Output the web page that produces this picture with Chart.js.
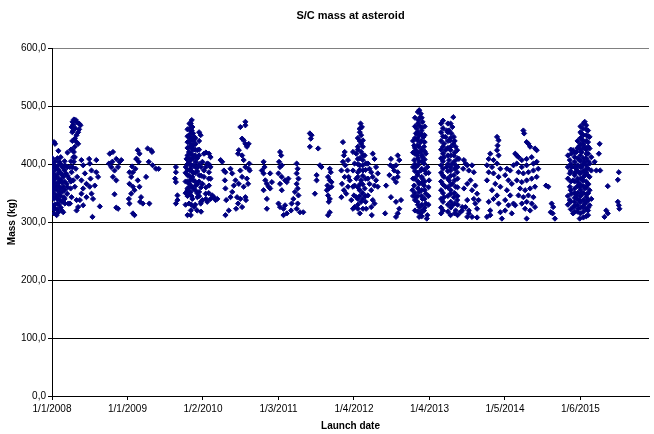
<!DOCTYPE html>
<html>
<head>
<meta charset="utf-8">
<script src="https://cdn.jsdelivr.net/npm/chart.js@4.4.0/dist/chart.umd.min.js"></script>
<style>
  html, body { margin: 0; padding: 0; background: #fff; }
  #wrap { width: 654px; height: 434px; }
</style>
</head>
<body>
<div id="wrap"><canvas id="massChart" width="654" height="434"></canvas></div>
<script>
// launch date = days after 1/1/2008, mass in kg
const tickDays = [0, 390, 780, 1170, 1560, 1950, 2340, 2730];
const tickLabels = ['1/1/2008', '1/1/2009', '1/2/2010', '1/3/2011', '1/4/2012', '1/4/2013', '1/5/2014', '1/6/2015'];
const massTicks = [0, 100, 200, 300, 400, 500, 600];

const launches2008 = [
    [11,438],[16,435],[33,423],[4,401],[4,386],[4,372],[4,358],[4,343],[7,326],[11,315],
    [21,395],[21,378],[21,361],[24,343],[28,332],[33,317],[38,404],[38,386],[38,369],[41,352],
    [41,338],[50,320],[55,395],[58,378],[58,361],[62,343],[67,398],[72,384],[76,366],[79,349],
    [84,332],[89,375],[93,395],[96,358],[101,386],[101,343],[110,372],[113,404],[118,412],[118,361],
    [123,392],[127,338],[130,378],[135,326],
    [106,473],[113,477],[123,476],[140,470],[147,467],[101,464],[110,458],[135,455],[127,450],[118,444],
    [127,438],[135,435],[118,430],[113,421],[110,412],
    [16,323],[24,312],[58,317],[67,332],[93,332],[127,320],[144,338],[152,349],[161,358],
    [152,407],[161,398],[170,384],[178,366],[192,409],[195,401],[204,389],[199,375],[195,361],[204,349],
    [212,340],[209,309],[221,363],[229,386],[229,407],[238,378],[247,327],[161,329],[178,343],[152,372],
    [298,418],[315,421],[332,409],[349,404],[358,407],[306,395],[323,389],[341,395],[315,378],[332,372],
    [323,348],[332,325],[341,323],[294,401],[311,404],
    [443,424],[452,418],[438,409],[448,404],[418,386],[409,378],[400,366],[418,361],[409,349],[397,340],
    [400,332],[426,355],[443,372],[452,361],[460,343],[455,335],[418,315],[426,312],[469,332],[435,409],
    [400,386],[414,396],[431,392],[494,427],[500,404],[486,378],[503,332],
    [2,330],[2,350],[2,365],[2,380],[2,395],[2,410],[10,322],[10,340],[10,355],[10,368],
    [10,382],[10,397],[16,330],[16,348],[16,362],[16,375],[16,390],[16,405],[28,322],[28,340],
    [28,355],[28,368],[28,382],[28,397],[28,410],[35,330],[35,348],[35,362],[35,375],[35,390],
    [45,325],[45,345],[45,358],[45,372],[45,385],[45,400],[45,412],[52,335],[52,352],[52,368],
    [52,382],[65,340],[65,355],[65,370],[65,390],[65,405],[80,360],[80,380],[80,395],[80,420],
    [98,370],[98,405],[98,425],[105,425],[105,440],[105,395],[110,468],[130,472],[120,462],[105,455],
    [140,460]
];

const launches2009 = [
    [512,424],[517,421],[520,398],[537,392],[551,392],
    [640,395],[640,386],[636,375],[640,369],[648,346],[648,338],[640,332],
    [722,476],[717,470],[725,464],[722,458],[729,453],[708,447],[734,447],[760,455],[768,450],[700,438],
    [717,435],[742,435],[751,424],[708,421],[725,415],[760,415],[785,418],[811,418],[819,412],[695,409],
    [708,404],[742,404],[777,404],[802,401],[819,395],[691,395],[717,392],[751,395],[785,389],[811,386],
    [700,381],[725,378],[760,381],[785,378],[819,375],[708,366],[742,363],[777,366],[811,363],[700,355],
    [717,352],[760,352],[794,349],[828,346],[725,340],[751,343],[777,338],[845,338],[708,332],[734,326],
    [768,332],[802,335],[717,320],[700,312],[717,312],[854,340],[836,343],[819,340],
    [871,407],[879,404],[888,389],[896,386],[922,392],[931,384],[893,372],[896,358],[900,338],[913,320],
    [896,312],[939,363],[922,343],[931,352],[948,372],[951,323],
    [961,418],[973,464],[999,473],[999,467],[982,444],[990,441],[999,435],[1007,430],[965,424],[982,415],
    [990,407],[999,395],[973,389],[982,378],[965,366],[990,361],[1007,375],[999,343],[973,340],[956,343],
    [961,332],[982,326],[1002,338],[1016,392],[1013,366],
    [710,470],[710,460],[710,450],[710,440],[710,430],[710,420],[710,410],[710,400],[710,390],[710,380],
    [710,370],[710,360],[710,350],[720,465],[720,455],[720,445],[720,428],[720,418],[720,408],[720,398],
    [720,388],[720,375],[720,362],[720,345],[720,330],[730,440],[730,432],[730,425],[730,410],[730,398],
    [730,385],[730,372],[730,358],[700,460],[700,448],[700,428],[700,415],[700,400],[700,390],[700,370],
    [700,358],[700,345],[740,445],[740,425],[740,415],[740,395],[740,385],[740,370],[740,355],[740,330],
    [750,410],[750,388],[750,365],[750,350],[750,320],[760,440],[760,425],[760,400],[760,370],[760,345],
    [770,395],[770,380],[770,360],[770,335],[770,318],[690,385],[690,370],[690,350],[690,330],
    [795,420],[795,395],[795,360],[795,340],[810,400],[810,375],[810,350]
];

const launches2011 = [
    [1016,435],[1019,401],[1021,389],
    [1093,404],[1098,395],[1084,389],[1093,384],[1102,372],[1110,366],[1119,361],[1127,358],[1093,355],
    [1110,340],[1110,323],[1127,384],[1136,369],
    [1178,421],[1184,415],[1173,404],[1178,395],[1187,398],[1170,384],[1187,378],[1204,372],[1213,369],
    [1221,375],[1178,366],[1187,355],[1170,332],[1178,326],[1196,323],[1204,329],[1213,315],[1196,312],
    [1264,401],[1269,392],[1264,384],[1273,375],[1264,366],[1269,358],[1255,352],[1273,346],[1247,340],
    [1238,332],[1235,320],[1269,332],[1281,317],[1298,317],[1264,323],
    [1332,453],[1341,450],[1337,444],[1332,430],[1375,427],[1384,398],[1392,395],[1367,381],[1367,372],
    [1358,349],
    [1435,392],[1440,386],[1426,378],[1435,372],[1423,363],[1430,358],[1420,355],[1426,346],[1435,340],
    [1430,335],[1444,369],[1444,361],[1435,317],[1426,312],
    [1503,438],[1512,421],[1508,415],[1503,404],[1515,398],[1495,389],[1512,378],[1498,366],[1508,355],
    [1495,343],[1520,349],[1529,361],[1526,389]
];

const launches2012 = [
    [1529,407],[1532,378],[1538,372],[1555,361],[1560,346],[1546,338],[1563,326],
    [1594,470],[1601,464],[1589,461],[1597,450],[1606,441],[1597,435],[1580,430],[1606,430],[1555,421],
    [1572,418],[1597,421],[1615,415],[1580,409],[1606,407],[1563,401],[1589,398],[1623,401],[1555,389],
    [1580,386],[1606,389],[1572,375],[1597,372],[1563,363],[1615,358],[1589,355],[1572,343],[1606,340],
    [1580,323],[1555,323],[1606,323],[1597,335],
    [1632,401],[1640,392],[1657,418],[1666,409],[1649,386],[1674,395],[1632,375],[1657,378],[1683,384],
    [1640,366],[1666,363],[1649,355],[1674,372],[1632,346],[1657,338],[1649,326],[1666,332],[1652,312],
    [1623,323],[1683,361],[1726,363],[1721,315],
    [1786,415],[1794,407],[1751,409],[1748,398],[1760,395],[1777,398],[1768,389],[1786,386],[1743,381],
    [1765,375],[1786,378],[1777,369],[1751,343],[1777,335],[1803,338],[1786,315],[1777,309],[1794,323],
    [1580,445],[1580,425],[1580,400],[1580,378],[1580,360],[1580,340],[1580,330],[1590,455],[1590,440],
    [1590,410],[1590,390],[1590,365],[1590,345],[1590,315],[1605,415],[1605,398],[1605,380],[1605,365],
    [1605,350],[1620,390],[1620,375],[1620,345],[1620,335]
];

const launches2013 = [
    [1897,493],[1905,487],[1902,481],[1892,476],[1914,473],[1897,467],[1885,461],[1909,458],[1880,453],
    [1897,450],[1919,447],[1888,441],[1905,438],[1871,432],[1897,430],[1922,430],[1880,424],[1905,421],
    [1931,418],[1888,415],[1914,412],[1871,407],[1897,404],[1922,401],[1939,395],[1880,395],[1905,389],
    [1931,384],[1888,381],[1914,375],[1948,372],[1897,366],[1871,363],[1922,363],[1862,355],[1897,352],
    [1931,349],[1880,343],[1914,340],[1888,335],[1931,332],[1897,326],[1922,320],[1905,315],[1939,312],
    [1897,309],[1936,306],
    [2039,458],[2033,447],[2025,435],[2033,424],[2025,412],[2039,395],[2025,378],[2033,361],[2025,343],
    [2073,481],[2059,470],[2068,464],[2051,458],[2063,453],[2076,447],[2056,441],[2073,435],[2085,430],
    [2059,424],[2093,424],[2076,415],[2051,407],[2068,401],[2085,398],[2102,409],[2059,389],[2076,381],
    [2093,386],[2051,372],[2068,366],[2085,361],[2059,349],[2076,343],[2093,338],[2068,329],[2085,320],
    [2059,312],[2110,317],[2119,320],
    [1890,490],[1890,470],[1890,455],[1890,445],[1890,433],[1890,420],[1890,410],[1890,398],[1890,385],
    [1890,370],[1890,358],[1890,345],[1890,330],[1890,318],[1875,480],[1875,465],[1875,445],[1875,428],
    [1875,418],[1875,400],[1875,388],[1875,375],[1875,350],[1875,338],[1875,320],[1910,480],[1910,463],
    [1910,452],[1910,440],[1910,425],[1910,415],[1910,405],[1910,392],[1910,378],[1910,368],[1910,355],
    [1910,345],[1910,330],[1910,320],[1910,310],[1925,465],[1925,450],[1925,438],[1925,422],[1925,408],
    [1925,390],[1925,370],[1925,355],[1925,340],[1925,325],[1865,440],[1865,420],[1865,395],[1865,375],
    [1865,345],[1945,385],[1945,360],[1945,345],[1945,330],
    [2010,470],[2010,455],[2010,440],[2010,425],[2010,410],[2010,398],[2010,385],[2010,370],[2010,355],
    [2010,340],[2010,325],[2010,315],[2020,475],[2020,462],[2020,448],[2020,430],[2020,418],[2020,405],
    [2020,392],[2020,380],[2020,365],[2020,350],[2020,335],[2020,320],[2045,470],[2045,455],[2045,440],
    [2045,428],[2045,415],[2045,400],[2045,388],[2045,375],[2045,360],[2045,345],[2045,330],[2045,318],
    [2060,445],[2060,430],[2060,415],[2060,395],[2060,380],[2060,365],[2060,355],[2060,335],[2060,325],
    [2080,440],[2080,420],[2080,405],[2080,392],[2080,372],[2080,350],[2080,332],[2080,315],
    [2095,410],[2095,395],[2095,375],[2095,360],[2095,345],[2095,330],[2095,312]
];

const launches2014 = [
    [2128,407],[2136,401],[2124,392],[2145,398],[2153,389],[2170,398],[2179,386],[2162,372],[2145,366],
    [2128,358],[2170,355],[2187,363],[2196,349],[2145,338],[2179,340],[2187,332],[2136,326],[2153,320],
    [2204,338],[2196,323],[2170,309],[2145,309],[2196,308],[2153,315],[2119,326],
    [2299,447],[2307,441],[2302,432],[2299,424],[2307,415],[2264,418],[2256,409],[2281,407],[2247,398],
    [2273,395],[2299,401],[2316,392],[2256,386],[2281,384],[2307,378],[2247,372],[2290,366],[2316,361],
    [2273,355],[2299,346],[2281,340],[2256,335],[2307,332],[2264,320],[2316,317],[2247,309],[2264,312],
    [2324,306],
    [2350,392],[2367,389],[2341,381],[2358,372],[2375,366],[2350,355],[2367,346],[2341,338],[2358,329],
    [2341,320],[2375,315],[2384,332],[2393,418],[2401,415],[2384,398],
    [2435,458],[2439,453],[2452,438],[2461,435],[2470,430],[2495,427],[2504,424],[2410,412],[2427,407],
    [2452,409],[2478,412],[2401,401],[2427,395],[2452,398],[2487,401],[2504,404],[2410,386],[2435,384],
    [2461,386],[2487,389],[2512,392],[2401,372],[2427,369],[2452,372],[2478,375],[2504,378],[2418,358],
    [2444,355],[2470,358],[2495,361],[2410,346],[2435,343],[2461,346],[2487,343],[2427,332],[2452,335],
    [2478,332],[2444,323],[2470,320],[2495,326],[2452,306],[2393,329],[2552,363]
];

const launches2015 = [
    [2564,361],[2581,332],[2589,326],[2576,317],[2586,315],[2598,306],
    [2752,473],[2760,467],[2743,461],[2769,458],[2735,453],[2760,450],[2777,447],[2743,441],[2769,438],
    [2726,432],[2752,430],[2777,427],[2692,424],[2683,418],[2709,421],[2735,421],[2760,418],[2786,412],
    [2675,407],[2700,404],[2726,407],[2752,404],[2777,401],[2803,404],[2683,395],[2709,392],[2735,395],
    [2760,392],[2786,389],[2675,384],[2700,381],[2726,384],[2752,381],[2777,378],[2692,372],[2717,369],
    [2743,372],[2769,366],[2675,361],[2700,358],[2726,361],[2752,358],[2777,355],[2683,349],[2709,346],
    [2735,349],[2760,343],[2786,340],[2675,338],[2700,335],[2726,338],[2752,332],[2777,329],[2692,326],
    [2717,323],[2743,326],[2769,320],[2692,315],[2726,306],[2769,312],
    [2829,435],[2825,418],[2812,389],[2832,389],[2871,362],[2863,320],[2871,315],[2854,309],
    [2928,386],[2923,373],[2923,335],[2928,329],[2931,323],
    [2730,465],[2730,455],[2730,445],[2730,435],[2730,425],[2730,415],[2730,405],[2730,395],[2730,385],
    [2730,375],[2730,365],[2730,355],[2730,345],[2730,335],[2730,325],[2730,315],[2745,470],[2745,450],
    [2745,435],[2745,428],[2745,410],[2745,400],[2745,388],[2745,378],[2745,362],[2745,350],[2745,338],
    [2745,328],[2745,318],[2745,308],[2760,460],[2760,440],[2760,425],[2760,410],[2760,398],[2760,385],
    [2760,370],[2760,360],[2760,348],[2760,335],[2760,322],[2760,310],[2770,448],[2770,430],[2770,418],
    [2770,405],[2770,392],[2770,380],[2770,365],[2770,350],[2770,338],[2770,325],[2715,440],[2715,428],
    [2715,410],[2715,398],[2715,388],[2715,375],[2715,362],[2715,350],[2715,340],[2715,330],[2715,318],
    [2700,420],[2700,412],[2700,395],[2700,385],[2700,370],[2700,350],[2700,342],[2700,328],[2700,318],
    [2680,425],[2680,400],[2680,388],[2680,370],[2680,355],[2680,335],[2680,322],
    [2665,415],[2665,395],[2665,375],[2665,345],[2665,330]
];

const allLaunches = [].concat(launches2008, launches2009, launches2011, launches2012,
    launches2013, launches2014, launches2015);

const navy = '#000080';
const font = 'Arial, "Liberation Sans", sans-serif';

const ctx = document.getElementById('massChart').getContext('2d');
new Chart(ctx, {
    type: 'scatter',
    data: {
        datasets: [{
            label: 'S/C mass',
            data: allLaunches.map(p => ({ x: p[0], y: p[1] })),
            pointStyle: 'rectRot',
            pointRadius: 2.6,
            pointBorderWidth: 1,
            backgroundColor: navy,
            borderColor: navy
        }]
    },
    options: {
        responsive: false,
        animation: false,
        devicePixelRatio: 1,
        layout: { padding: { left: 0, right: 1, top: 0, bottom: 0 } },
        plugins: {
            legend: { display: false },
            tooltip: { enabled: false },
            title: {
                display: true,
                text: 'S/C mass at asteroid',
                fullSize: false,
                color: '#000',
                font: { family: font, size: 11, weight: 'bold', lineHeight: 1.2 },
                padding: { top: 9, bottom: 26 }
            }
        },
        scales: {
            x: {
                type: 'linear',
                min: 0,
                max: 3084,
                afterBuildTicks: function(scale) {
                    scale.ticks = tickDays.map(v => ({ value: v }));
                },
                afterFit: function(scale) { scale.height = 38; },
                ticks: {
                    autoSkip: false,
                    maxRotation: 0,
                    padding: 3,
                    color: '#000',
                    font: { family: font, size: 10 },
                    callback: function(value) {
                        const i = tickDays.indexOf(value);
                        return i >= 0 ? tickLabels[i] : '';
                    }
                },
                grid: {
                    drawOnChartArea: false,
                    tickLength: 4,
                    tickColor: '#000'
                },
                border: { color: '#000', width: 1 },
                title: {
                    display: true,
                    text: 'Launch date',
                    color: '#000',
                    font: { family: font, size: 10, weight: 'bold', lineHeight: 1.2 },
                    padding: { top: 0, bottom: 2 }
                }
            },
            y: {
                min: 0,
                max: 600,
                afterBuildTicks: function(scale) {
                    scale.ticks = massTicks.map(v => ({ value: v }));
                },
                afterFit: function(scale) { scale.width = 52; },
                ticks: {
                    padding: 2,
                    color: '#000',
                    font: { family: font, size: 10 },
                    callback: function(value) {
                        return value.toFixed(1).replace('.', ',');
                    }
                },
                grid: {
                    color: function(c) {
                        return c.tick && c.tick.value === 600 ? '#808080' : '#000';
                    },
                    lineWidth: 1,
                    tickLength: 4,
                    tickColor: '#000'
                },
                border: { color: '#000', width: 1 },
                title: {
                    display: true,
                    text: 'Mass (kg)',
                    color: '#000',
                    font: { family: font, size: 10, weight: 'bold', lineHeight: 1.2 },
                    padding: { top: 6, bottom: 0 }
                }
            }
        }
    }
});
</script>
</body>
</html>
